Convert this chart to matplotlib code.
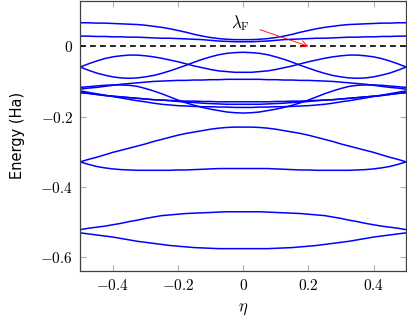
import numpy as np
import matplotlib
matplotlib.use("Agg")
import matplotlib.pyplot as plt

plt.rcParams['mathtext.fontset'] = 'cm'

# eta from -0.5 to 0 (bands are symmetric, right half is the mirror)
eta_half = [-0.5, -0.475, -0.45, -0.425, -0.4, -0.375, -0.35, -0.325, -0.3, -0.275, -0.25,
            -0.225, -0.2, -0.175, -0.15, -0.125, -0.1, -0.075, -0.05, -0.025, 0.0]

band1 = [0.067, 0.067, 0.066, 0.066, 0.065, 0.064, 0.063, 0.062, 0.060, 0.057, 0.054,
         0.050, 0.045, 0.040, 0.034, 0.029, 0.025, 0.022, 0.020, 0.019, 0.019]
band2 = [0.029, 0.029, 0.028, 0.028, 0.027, 0.027, 0.026, 0.026, 0.025, 0.024, 0.023,
         0.023, 0.022, 0.021, 0.020, 0.019, 0.017, 0.015, 0.014, 0.013, 0.013]
bandA = [-0.059, -0.050, -0.042, -0.035, -0.030, -0.027, -0.025, -0.025, -0.027, -0.030, -0.034,
         -0.039, -0.044, -0.050, -0.056, -0.061, -0.066, -0.070, -0.072, -0.074, -0.074]
bandB = [-0.059, -0.068, -0.076, -0.082, -0.087, -0.090, -0.091, -0.090, -0.087, -0.083, -0.077,
         -0.070, -0.062, -0.054, -0.045, -0.037, -0.030, -0.024, -0.020, -0.018, -0.017]
bandC = [-0.122, -0.119, -0.117, -0.114, -0.111, -0.108, -0.106, -0.104, -0.102, -0.100, -0.099,
         -0.098, -0.097, -0.097, -0.096, -0.096, -0.095, -0.095, -0.094, -0.094, -0.094]
bandD = [-0.132, -0.134, -0.137, -0.140, -0.142, -0.144, -0.146, -0.148, -0.150, -0.152, -0.153,
         -0.154, -0.155, -0.156, -0.156, -0.157, -0.157, -0.158, -0.158, -0.158, -0.158]
bandE = [-0.132, -0.134, -0.137, -0.140, -0.142, -0.144, -0.146, -0.148, -0.150, -0.152, -0.153,
         -0.155, -0.157, -0.159, -0.160, -0.162, -0.163, -0.164, -0.165, -0.165, -0.165]
bandF = [-0.127, -0.131, -0.135, -0.139, -0.143, -0.147, -0.151, -0.155, -0.158, -0.162, -0.165,
         -0.167, -0.169, -0.170, -0.171, -0.172, -0.172, -0.173, -0.173, -0.174, -0.174]
bandG = [-0.117, -0.115, -0.113, -0.111, -0.110, -0.110, -0.111, -0.114, -0.120, -0.127, -0.135,
         -0.144, -0.153, -0.161, -0.168, -0.174, -0.179, -0.183, -0.187, -0.189, -0.190]
bandH = [-0.329, -0.322, -0.316, -0.309, -0.302, -0.296, -0.290, -0.284, -0.278, -0.271, -0.265,
         -0.259, -0.253, -0.248, -0.244, -0.240, -0.236, -0.233, -0.231, -0.230, -0.230]
bandI = [-0.329, -0.336, -0.342, -0.346, -0.349, -0.351, -0.352, -0.353, -0.353, -0.353, -0.353,
         -0.353, -0.352, -0.352, -0.351, -0.350, -0.349, -0.348, -0.348, -0.348, -0.348]
bandJ = [-0.522, -0.518, -0.515, -0.512, -0.508, -0.504, -0.499, -0.495, -0.490, -0.486, -0.482,
         -0.480, -0.478, -0.476, -0.475, -0.474, -0.473, -0.472, -0.471, -0.471, -0.471]
bandK = [-0.531, -0.534, -0.537, -0.540, -0.543, -0.547, -0.551, -0.555, -0.558, -0.561, -0.564,
         -0.567, -0.569, -0.571, -0.573, -0.574, -0.575, -0.576, -0.576, -0.576, -0.576]

bands = [band1, band2, bandA, bandB, bandC, bandD, bandE, bandF, bandG,
         bandH, bandI, bandJ, bandK]


def mirror(v):
    v = list(v)
    return np.array(v + v[-2::-1])


eta = np.array(eta_half + [-e for e in eta_half[-2::-1]])

fig = plt.figure(figsize=(4.07, 3.22), dpi=100)
ax = fig.add_axes([0.197, 0.158, 0.801, 0.840])

for b in bands:
    ax.plot(eta, mirror(b), color='blue', lw=1.1)

ax.axhline(0, color='black', lw=1.2, ls=(0, (3.5, 2.5)))

ax.annotate(r'$\lambda_\mathrm{F}$', xy=(0.2, 0.0), xytext=(-0.01, 0.067),
            fontsize=12, ha='center', va='center',
            arrowprops=dict(arrowstyle='->', color='red', lw=0.6,
                            shrinkA=6, shrinkB=0))

ax.set_xlim(-0.5, 0.5)
ax.set_ylim(-0.64, 0.13)
ax.set_xticks([-0.4, -0.2, 0, 0.2, 0.4])
ax.set_yticks([-0.6, -0.4, -0.2, 0])
ax.set_xticklabels([r'$-0.4$', r'$-0.2$', r'$0$', r'$0.2$', r'$0.4$'])
ax.set_yticklabels([r'$-0.6$', r'$-0.4$', r'$-0.2$', r'$0$'])
ax.tick_params(direction='in', top=True, right=True, length=4,
               color='#b0b0b0', labelsize=11, pad=5)
for s in ax.spines.values():
    s.set_color('#404040')
    s.set_linewidth(0.9)

ax.set_xlabel(r'$\eta$', fontsize=12)
ax.set_ylabel('Energy (Ha)', fontsize=10.5, family='DejaVu Sans', labelpad=11)

fig.savefig('out.png', dpi=100)
